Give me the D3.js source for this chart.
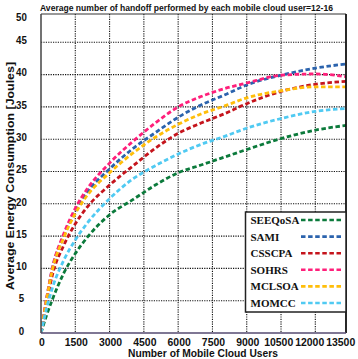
<!DOCTYPE html>
<html><head><meta charset="utf-8">
<script src="https://cdn.jsdelivr.net/npm/d3@7"></script>
<style>html,body{margin:0;padding:0;background:#fff;}svg{display:block;}</style>
</head><body>
<svg id="c" width="358" height="359"></svg>
<script>
const users = [0, 250, 500, 1000, 1500, 2000, 3000, 4000, 5000, 6000, 7000, 8000, 9000, 10500, 12000, 13500];
const seeqosa = [0, 2.8, 5.2, 9.3, 12.3, 14.7, 18.3, 20.6, 22.9, 24.8, 26.0, 27.2, 28.4, 30.1, 31.4, 32.2];
const sami    = [0, 5.4, 10.0, 15.1, 18.9, 21.7, 25.4, 28.5, 31.0, 33.4, 35.3, 36.8, 38.4, 39.9, 41.0, 41.7];
const csscpa  = [0, 4.8, 9.0, 13.6, 16.9, 19.4, 22.9, 25.8, 28.6, 30.9, 32.5, 33.9, 35.5, 37.4, 38.5, 39.0];
const sohrs   = [0, 5.5, 10.1, 15.4, 19.3, 22.2, 26.3, 29.6, 32.5, 35.0, 36.6, 37.8, 38.7, 39.9, 40.1, 39.6];
const mclsoa  = [0, 5.3, 9.8, 14.8, 18.5, 21.2, 24.8, 27.8, 30.3, 32.3, 33.9, 35.1, 36.4, 37.5, 38.1, 38.1];
const momcc   = [0, 3.9, 7.0, 11.3, 14.4, 16.9, 20.8, 23.8, 25.9, 27.7, 29.2, 30.4, 31.7, 33.2, 34.3, 34.8];
const seriesNames = ["SEEQoSA", "SAMI", "CSSCPA", "SOHRS", "MCLSOA", "MOMCC"];
const seriesValues = [seeqosa, sami, csscpa, sohrs, mclsoa, momcc];
const seriesColors = ["#0b7a3b", "#2b63ad", "#c5141c", "#ff1f7a", "#ffbe0a", "#50caf2"];
const xTicks = [0, 1500, 3000, 4500, 6000, 7500, 9000, 10500, 12000, 13500];
const yTicks = [0, 5, 10, 15, 20, 25, 30, 35, 40, 45, 50];
const titleText = "Average number of handoff performed by each mobile cloud user=12-16";
const xTitle = "Number of Mobile Cloud Users";
const yTitle = "Average Energy Consumption [Joules]";

const svg = d3.select("#c");
const L = 41, R = 346, T = 14, B = 333;
const xs = d3.scaleLinear().domain([0, 13500]).range([41, 349.6]);
const ys = d3.scaleLinear().domain([0, 50]).range([333, 10]);
const FONT = "'Liberation Sans', Arial, sans-serif";

svg.append("defs").append("clipPath").attr("id", "clip")
  .append("rect").attr("x", L).attr("y", T).attr("width", R - L).attr("height", B - T);

// grid
const g = svg.append("g").attr("clip-path", "url(#clip)");
g.selectAll(".gx").data(xTicks.filter(v => v > 0 && xs(v) < R - 1)).join("line")
  .attr("x1", d => xs(d)).attr("x2", d => xs(d)).attr("y1", T).attr("y2", B)
  .attr("stroke", "#111").attr("stroke-width", 1.1).attr("stroke-dasharray", "1.2,1.2");
g.selectAll(".gy").data(yTicks.filter(v => v > 0 && ys(v) > T + 1)).join("line")
  .attr("x1", L).attr("x2", R).attr("y1", d => ys(d)).attr("y2", d => ys(d))
  .attr("stroke", "#111").attr("stroke-width", 1.1).attr("stroke-dasharray", "1.2,1.2");

// curves
const line = d3.line().x((d, i) => xs(users[i])).y(d => ys(d)).curve(d3.curveMonotoneX);
seriesValues.forEach((vals, k) => {
  g.append("path").datum(vals).attr("d", line).attr("fill", "none")
    .attr("stroke", seriesColors[k]).attr("stroke-width", 2.8)
    .attr("stroke-dasharray", "4.5,2.6");
});

// frame
svg.append("line").attr("x1", L).attr("x2", R).attr("y1", T).attr("y2", T).attr("stroke", "#333").attr("stroke-width", 1.2);
svg.append("line").attr("x1", R).attr("x2", R).attr("y1", T).attr("y2", B).attr("stroke", "#111").attr("stroke-width", 1.8);
svg.append("line").attr("x1", L).attr("x2", L).attr("y1", T).attr("y2", B).attr("stroke", "#444").attr("stroke-width", 1.5);
svg.append("line").attr("x1", L).attr("x2", R).attr("y1", B).attr("y2", B).attr("stroke", "#554a70").attr("stroke-width", 1.6);

// y tick labels
svg.selectAll(".yl").data(yTicks).join("text")
  .attr("x", 21.5).attr("y", d => Math.max(ys(d), 19) + 1.7)
  .attr("text-anchor", "middle").attr("font-family", FONT).attr("font-weight", "bold")
  .attr("font-size", 11.5).attr("fill", "#111")
  .attr("textLength", d => String(d).length * 5.4).attr("lengthAdjust", "spacingAndGlyphs")
  .text(d => d);

// x tick labels
svg.selectAll(".xl").data(xTicks).join("text")
  .attr("x", d => xs(d) + 1 - (d >= 10500 ? (d - 9000) / 1500 * 3.3 : 0))
  .attr("y", 345.5)
  .attr("text-anchor", "middle").attr("font-family", FONT).attr("font-weight", "bold")
  .attr("font-size", 11).attr("fill", "#111")
  .attr("textLength", d => String(d).length * 5.8).attr("lengthAdjust", "spacingAndGlyphs")
  .text(d => d);

// titles
svg.append("text").attr("x", 186.5).attr("y", 10.8).attr("text-anchor", "middle")
  .attr("font-family", FONT).attr("font-weight", "bold").attr("font-size", 9).attr("fill", "#111")
  .attr("textLength", 293).attr("lengthAdjust", "spacingAndGlyphs").text(titleText);
svg.append("text").attr("x", 203).attr("y", 356.5).attr("text-anchor", "middle")
  .attr("font-family", FONT).attr("font-weight", "bold").attr("font-size", 11).attr("fill", "#111")
  .attr("textLength", 150).attr("lengthAdjust", "spacingAndGlyphs").text(xTitle);
svg.append("text").attr("transform", "translate(14,176) rotate(-90)").attr("text-anchor", "middle")
  .attr("font-family", FONT).attr("font-weight", "bold").attr("font-size", 11.5).attr("fill", "#111")
  .attr("textLength", 228).attr("lengthAdjust", "spacingAndGlyphs").text(yTitle);

// legend
const lg = svg.append("g");
lg.append("rect").attr("x", 245.5).attr("y", 212).attr("width", R - 245.5).attr("height", 100)
  .attr("fill", "#fff").attr("stroke", "#222").attr("stroke-width", 1.5);
const ly = d3.scalePoint().domain(seriesNames).range([220, 303]);
seriesNames.forEach((n, k) => {
  lg.append("text").attr("x", 250.5).attr("y", ly(n) + 4).attr("font-family", "'Liberation Serif', 'Times New Roman', serif")
    .attr("font-weight", "bold").attr("font-size", 11).attr("fill", "#111").text(n);
  lg.append("line").attr("x1", 301).attr("x2", 342).attr("y1", ly(n)).attr("y2", ly(n))
    .attr("stroke", seriesColors[k]).attr("stroke-width", 2.6).attr("stroke-dasharray", "4.5,2.6");
});
</script>
</body></html>
